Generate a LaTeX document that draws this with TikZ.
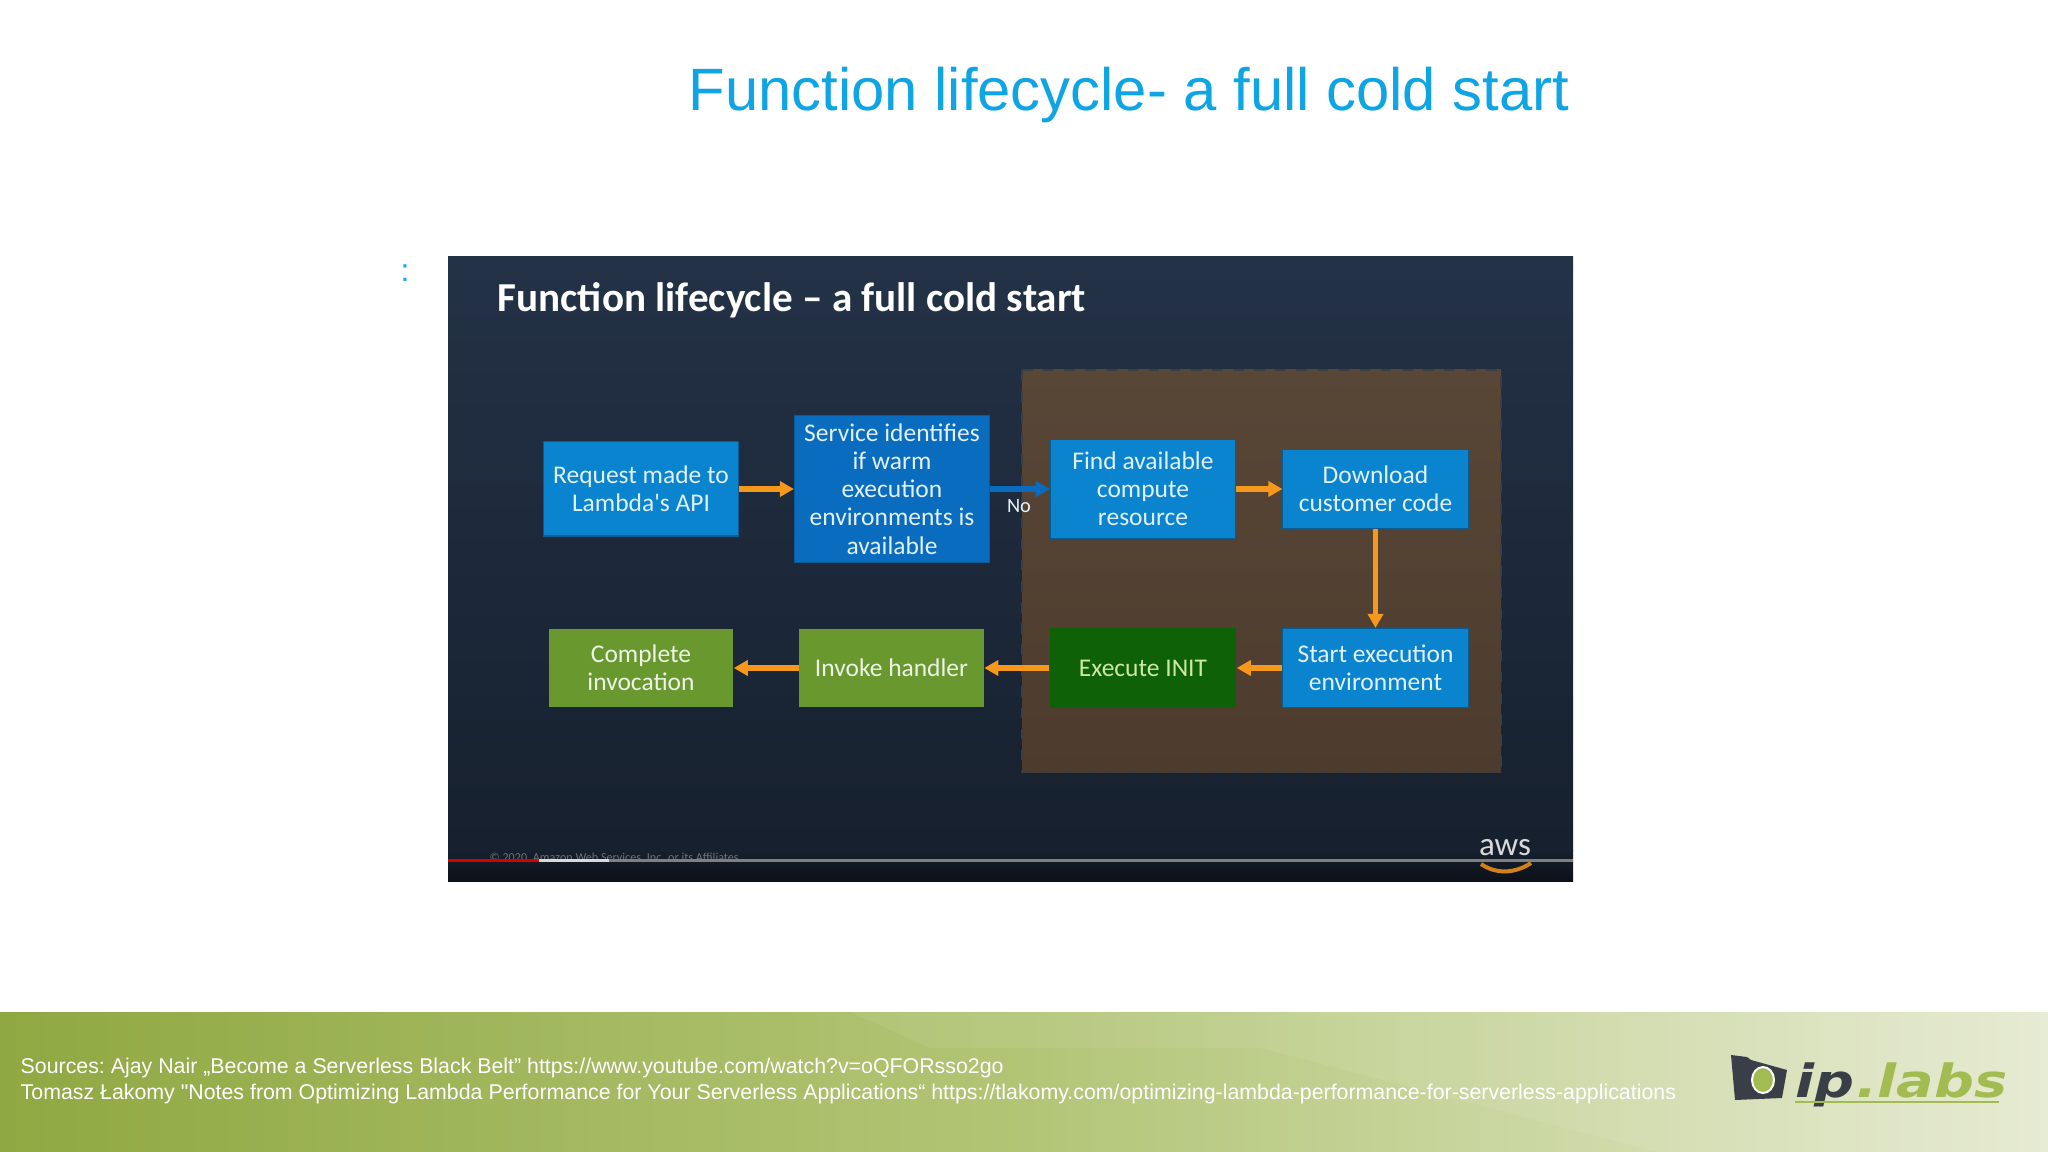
\documentclass[tikz,border=0pt]{standalone}
\RequirePackage{fontspec}
\RequirePackage{graphicx}
\newfontfamily\slidefont{Liberation Sans}
\newfontfamily\emberfont{Carlito}
\newfontfamily\logofont{DejaVu Sans}
\RequirePackage{tikz}
\usetikzlibrary{calc}
\usetikzlibrary{arrows.meta}

\definecolor{slideblue}{HTML}{0FA5E4}
\definecolor{boxblue}{HTML}{0A84CF}
\definecolor{boxdeep}{HTML}{0A6CBF}
\definecolor{boxgreen}{HTML}{69982F}
\definecolor{boxinit}{HTML}{0F6107}
\definecolor{flow}{HTML}{F6981B}
\definecolor{logodark}{HTML}{3A3F47}
\definecolor{logogreen}{HTML}{A3BC52}
\definecolor{paneltop}{HTML}{243247}
\definecolor{panelmid}{HTML}{16202E}
\definecolor{panelend}{HTML}{0C1118}
\definecolor{browntop}{HTML}{584737}
\definecolor{brownend}{HTML}{4D3B2D}

\tikzset{
    stepbox/.style={rectangle,inner sep=0pt,align=center,text=white!88!boxblue,
        font=\emberfont\fontsize{7.25}{8}\selectfont},
    bluebox/.style={stepbox,fill=boxblue,draw=boxblue!70!black,line width=0.3pt},
    greenbox/.style={stepbox,fill=boxgreen,text=white!88!boxgreen},
    flowline/.style={draw=flow,line width=0.05cm,-{Triangle[length=0.14cm,width=0.15cm]}},
    footline/.style={text=white,inner sep=0pt,anchor=base west,
        font=\slidefont\frenchspacing\fontsize{6.07}{7}\selectfont},
    logotext/.style={inner sep=0pt,anchor=base west,
        font=\logofont\bfseries\itshape\fontsize{13}{14}\selectfont},
}

\begin{document}
\begin{tikzpicture}[x=0.01cm,y=-0.01cm]
                    \useasboundingbox (0,0) rectangle (2048,1152);
                    \fill[white] (0,0) rectangle (2048,1152);

                    \node[text=slideblue,inner sep=0pt,font=\slidefont\fontsize{17}{20}\selectfont,anchor=base west] (heading) at(688,111) {Function lifecycle- a full cold start};
                    \node[text=slideblue,font=\slidefont\fontsize{9}{10}\selectfont] (colon) at(405,273) {:};

                    \fill[top color=paneltop,bottom color=panelmid] (448,257) rectangle (1573,850);
                    \fill[top color=panelmid,bottom color=panelend] (448,850) rectangle (1573,881);

                    \node[text=white,inner sep=0pt,font=\emberfont\bfseries\fontsize{11.7}{12}\selectfont,anchor=base west] (slide) at(497,312) {Function lifecycle – a full cold start};

                    \draw[top color=browntop,bottom color=brownend,draw=browntop!50!paneltop,dashed,line width=0.025cm] (1022,370) rectangle (1501,772);

                    \node[bluebox,minimum width=1.94cm,minimum height=0.94cm] (request) at(641,489) {Request made to\\Lambda's API};
                    \node[bluebox,fill=boxdeep,minimum width=1.95cm,minimum height=1.46cm] (service) at(892,489) {Service identifies\\if warm\\execution\\environments is\\available};
                    \node[bluebox,minimum width=1.85cm,minimum height=0.99cm] (find) at(1143,489) {Find available\\compute\\resource};
                    \node[bluebox,minimum width=1.85cm,minimum height=0.79cm] (download) at(1375.5,489) {Download\\customer code};
                    \node[bluebox,minimum width=1.85cm,minimum height=0.79cm] (start) at(1375.5,668) {Start execution\\environment};
                    \node[stepbox,fill=boxinit,text={rgb,255:red,205;green,232;blue,160},minimum width=1.86cm,minimum height=0.79cm] (init) at(1143,668) {Execute INIT};
                    \node[greenbox,minimum width=1.84cm,minimum height=0.78cm] (invoke) at(891.5,668) {Invoke handler};
                    \node[greenbox,minimum width=1.84cm,minimum height=0.78cm] (complete) at(641,668) {Complete\\invocation};

                    \draw[flowline] (request) -- (service);
                    \draw[flowline,draw=boxdeep] (service) -- (find);
                    \draw[flowline] (find) -- (download);
                    \draw[flowline] (download) -- (start);
                    \draw[flowline] (start) -- (init);
                    \draw[flowline] (init) -- (invoke);
                    \draw[flowline] (invoke) -- (complete);
                    \node[text=white!90!boxblue,font=\emberfont\fontsize{5.8}{6}\selectfont] (no) at(1019,506) {No};

                    \node[text=black!55,inner sep=0pt,font=\emberfont\fontsize{3.45}{3}\selectfont,anchor=base west] (copyright) at(489,861) {© 2020, Amazon Web Services, Inc. or its Affiliates.};
                    \fill[black!50] (448,859) rectangle (1573,862);
                    \fill[black!15] (539,859) rectangle (609,862);
                    \fill[red!85!black] (448,859) rectangle (539,862);
                    \node[text=black!15,font=\emberfont\fontsize{9.4}{8}\selectfont] (aws) at(1505,848) {aws};
                    \coordinate (swooshA) at(1481,864);
                    \coordinate (swooshB) at(1531,863);
                    \draw[flow!85!black,line width=0.04cm] (swooshA) .. controls (1497,875) and (1516,873) .. (swooshB);

                    \fill[left color={rgb,255:red,144;green,168;blue,66},right color={rgb,255:red,229;green,234;blue,208},middle color={rgb,255:red,178;green,197;blue,118}] (0,1012) rectangle (2048,1152);
                    \fill[white,opacity=0.07] (850,1012) -- (930,1048) -- (1261,1048) -- (1657,1152) -- (2048,1152) -- (2048,1012) -- cycle;
                    \node[footline] (source) at(20,1073.5) {Sources: Ajay Nair „Become a Serverless Black Belt” https://www.youtube.com/watch?v=oQFORsso2go};
                    \node[footline] (notes) at(20,1099.5) {Tomasz Łakomy "Notes from Optimizing Lambda Performance for Your Serverless Applications“ https://tlakomy.com/optimizing-lambda-performance-for-serverless-applications};

                    \fill[logodark] (1731,1055) -- (1747,1057) -- (1751,1060) -- (1787,1070) -- (1782,1098) -- (1735,1100) -- cycle;
                    \draw[fill=logogreen,draw=white,line width=0.02cm] (1763,1080) ellipse (11 and 13);
                    \node[logotext,text=logodark] (logoip) at(1795,1097) {\scalebox{1.22}[1]{ip}};
                    \node[logotext,text=logogreen] (logolabs) at(logoip.base east) {\scalebox{1.22}[1]{.labs}};
                    \fill[logogreen] (1795,1100.5) rectangle (1999,1102.5);
                \end{tikzpicture}
\end{document}
